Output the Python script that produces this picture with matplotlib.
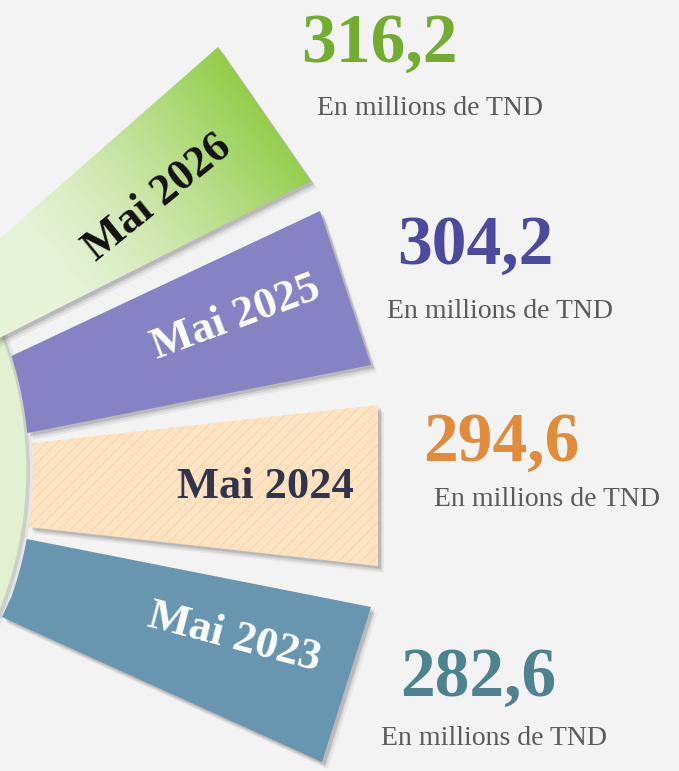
import numpy as np
import matplotlib
matplotlib.use("Agg")
import matplotlib.pyplot as plt
from matplotlib.patches import Polygon, Circle

# ---- data ----
categories = ["Mai 2026", "Mai 2025", "Mai 2024", "Mai 2023"]
values = [316.2, 304.2, 294.6, 282.6]
unit_label = "En millions de TND"

# ---- styles ----
band_colors = ["#92cc48", "#8683c5", "#fce4c2", "#6896b0"]
value_colors = ["#72ad2f", "#4b4a9f", "#e08c3b", "#4d828f"]
label_colors = ["#111111", "#ffffff", "#33334d", "#ffffff"]
label_rot = [39, 20.5, 0, -14.7]
label_pos = [(158, 198), (236, 318), (265, 487), (234, 638)]
value_pos = [(379, 62), (475, 264), (501, 461), (478, 696)]
unit_pos = [(430, 115), (500, 318), (547, 506), (494, 745)]

W, H = 679, 771
fig = plt.figure(figsize=(W / 100, H / 100), dpi=100)
fig.patch.set_facecolor("#f3f3f3")
ax = fig.add_axes([0, 0, 1, 1])
ax.set_xlim(0, W)
ax.set_ylim(H, 0)
ax.axis("off")

# central circle
cx, cy, r = -350, 470, 377


def arc(y0, y1, rr, n=20):
    ys = np.linspace(y0, y1, n)
    xs = cx + np.sqrt(np.maximum(rr ** 2 - (ys - cy) ** 2, 0))
    return list(zip(xs, ys))


# band geometry (layout)
shapes = [
    [(-100, 326), (218, 47), (311, 181), (-100, 388)],
    [(320, 211), (371, 365)] + arc(433, 356, r + 2),
    [(378, 405), (378, 566)] + arc(527, 443, r + 6),
    [(371, 607), (322, 762), (2, 617)] + arc(600, 539, r + 6)[1:],
]


def shadow(pts, z):
    for dx, dy, a in [(6, 7, 0.05), (4, 5, 0.08), (3, 3, 0.12)]:
        p = [(x + dx, y + dy) for x, y in pts]
        ax.add_patch(Polygon(p, closed=True, facecolor="#000000", alpha=a,
                             lw=0, zorder=z - 0.5))


# circle with shadow
for dx, a in [(6, 0.05), (3, 0.1)]:
    ax.add_patch(Circle((cx + dx, cy + 2), r, facecolor="black", alpha=a, lw=0, zorder=1))
ax.add_patch(Circle((cx, cy), r, facecolor="#e2f1d1", edgecolor="#c9d6bb", lw=1, zorder=1.2))

for i, pts in enumerate(shapes):
    z = 3 + i
    shadow(pts, z)
    if i == 0:
        poly = Polygon(pts, closed=True, facecolor="none", lw=0, zorder=z)
        ax.add_patch(poly)
        xs = np.linspace(-100, 330, 300)
        ys = np.linspace(30, 400, 300)
        X, Y = np.meshgrid(xs, ys)
        d = np.array([np.cos(np.radians(39)), -np.sin(np.radians(39))])
        t = (X - 60) * d[0] + (Y - 280) * d[1]
        t = np.clip(t / 270.0, 0, 1) ** 1.3
        c0 = np.array(matplotlib.colors.to_rgb("#e6f3d8"))
        c1 = np.array(matplotlib.colors.to_rgb(band_colors[0]))
        img = c0[None, None, :] * (1 - t[..., None]) + c1[None, None, :] * t[..., None]
        im = ax.imshow(img, extent=[xs[0], xs[-1], ys[-1], ys[0]], origin="upper",
                       zorder=z, aspect="auto")
        im.set_clip_path(poly)
    elif i == 2:
        ax.add_patch(Polygon(pts, closed=True, facecolor=band_colors[i],
                             edgecolor="#f5d9b2", hatch="///", lw=0, zorder=z))
    else:
        ax.add_patch(Polygon(pts, closed=True, facecolor=band_colors[i], lw=0, zorder=z))

ax.set_xlim(0, W)
ax.set_ylim(H, 0)

serif = ["Liberation Serif", "DejaVu Serif"]
for i, cat in enumerate(categories):
    ax.text(*label_pos[i], cat, rotation=label_rot[i], rotation_mode="anchor",
            ha="center", va="center", fontsize=32, fontweight="bold",
            color=label_colors[i], family=serif, zorder=10)
    ax.text(*value_pos[i], f"{values[i]:.1f}".replace(".", ","), ha="center",
            va="baseline", fontsize=50, fontweight="bold", color=value_colors[i],
            family=serif, zorder=10)
    ax.text(*unit_pos[i], unit_label, ha="center", va="baseline", fontsize=20,
            color="#5a5a5a", family=serif, zorder=10)

fig.savefig("out.png", dpi=100, facecolor=fig.get_facecolor())
